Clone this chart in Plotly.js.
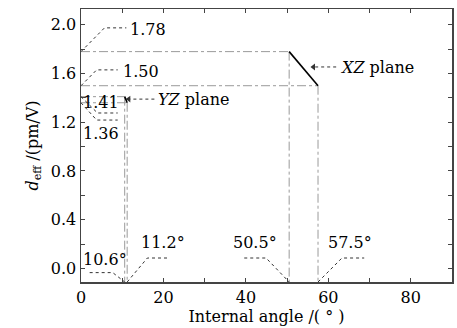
<!DOCTYPE html>
<html>
<head>
<meta charset="utf-8">
<script src="https://cdn.plot.ly/plotly-3.0.1.min.js"></script>
<style>html,body{margin:0;padding:0;background:#fff;}#chart{width:457px;height:328px;}</style>
</head>
<body>
<div id="chart"></div>
<script>
// ---- data ----
const xzAngle = [50.5, 57.5];
const xzDeff = [1.78, 1.50];
const yzAngle = [10.6, 11.2];
const yzDeff = [1.41, 1.36];
const xTickVals = [0, 20, 40, 60, 80];
const xTickText = ['0', '20', '40', '60', '80'];
const yTickVals = [0, 0.4, 0.8, 1.2, 1.6, 2.0];
const yTickText = ['0.0', '0.4', '0.8', '1.2', '1.6', '2.0'];

// ---- layout constants ----
const xRange = [0, 90];
const yRange = [-0.112, 2.13];
const yBot = yRange[0];
const FONT = 'DejaVu Serif';
const FS = 16;
const refColor = '#9a9a9a';
const leadColor = '#333';

const traces = [];
function line(xs, ys, color, dash, width) {
  traces.push({x: xs, y: ys, mode: 'lines', type: 'scatter', hoverinfo: 'skip',
    line: {color: color, dash: dash, width: width}, showlegend: false});
}

// reference dash-dot lines from the data points
const allAngles = xzAngle.concat(yzAngle);
const allDeff = xzDeff.concat(yzDeff);
for (let i = 0; i < allAngles.length; i++) {
  line([0, allAngles[i]], [allDeff[i], allDeff[i]], refColor, 'dashdot', 1);
  line([allAngles[i], allAngles[i]], [allDeff[i], yBot], refColor, 'dashdot', 1);
}

// leader lines (label placement)
const leaders = [
  [[0, 5.7, 11.0], [xzDeff[0], 1.975, 1.975]],
  [[0, 3.8, 8.9], [xzDeff[1], 1.63, 1.63]],
  [[0, 4.0, 8.9], [yzDeff[0], 1.276, 1.276]],
  [[0, 3.8, 8.9], [yzDeff[1], 1.218, 1.218]],
  [[2.1, 7.7, yzAngle[0]], [-0.035, -0.035, yBot]],
  [[yzAngle[1], 16.1, 21.4], [yBot, 0.085, 0.085]],
  [[39.6, 44.9, xzAngle[0]], [0.085, 0.085, yBot]],
  [[xzAngle[1], 63.3, 68.7], [yBot, 0.085, 0.085]],
  [[17.8, 11.8], [1.39, 1.39]],
  [[61.9, 56.6], [1.654, 1.654]]
];
leaders.forEach(l => line(l[0], l[1], leadColor, 'dot', 1));

// arrow heads of the plane pointers
traces.push({x: [11.6, 56.4], y: [1.39, 1.654], mode: 'markers', type: 'scatter', hoverinfo: 'skip',
  marker: {symbol: 'triangle-left', size: 6, color: leadColor}, showlegend: false});

// main curves
line(xzAngle, xzDeff, '#000', 'solid', 1.6);
line(yzAngle, yzDeff, '#000', 'solid', 1.6);

function lab(x, y, text, anchor) {
  return {x: x, y: y, xref: 'x', yref: 'y', text: text, showarrow: false,
    xanchor: anchor || 'left', yanchor: 'middle', font: {family: FONT, size: FS, color: '#000'}};
}
const annotations = [
  lab(11.5, 1.965, xzDeff[0].toFixed(2)),
  lab(9.6, 1.62, xzDeff[1].toFixed(2)),
  lab(0.1, 1.366, yzDeff[0].toFixed(2)),
  lab(0.0, 1.111, yzDeff[1].toFixed(2)),
  lab(0.0, 0.074, yzAngle[0].toFixed(1) + '°'),
  lab(14.0, 0.214, yzAngle[1].toFixed(1) + '°'),
  lab(36.5, 0.214, xzAngle[0].toFixed(1) + '°'),
  lab(59.5, 0.214, xzAngle[1].toFixed(1) + '°'),
  lab(18.3, 1.385, '<i>YZ</i> plane'),
  lab(62.4, 1.65, '<i>XZ</i> plane')
];

const axisCommon = {
  showgrid: false, zeroline: false, showline: true, linecolor: '#444', linewidth: 1.5,
  mirror: 'ticks', ticks: 'inside', ticklen: 4, tickwidth: 1, tickcolor: '#444',
  tickmode: 'array', tickfont: {family: FONT, size: FS, color: '#000'}
};

const layout = {
  width: 457, height: 328,
  margin: {l: 81, r: 5, t: 9, b: 46},
  paper_bgcolor: '#fff', plot_bgcolor: '#fff',
  font: {family: FONT, color: '#000'},
  xaxis: Object.assign({}, axisCommon, {
    range: xRange, tickvals: xTickVals, ticktext: xTickText, ticklabelstandoff: 0,
    minor: {dtick: 10, tick0: 0, ticks: 'inside', ticklen: 4, tickwidth: 1, tickcolor: '#444'},
    title: {text: 'Internal angle /( ° )', font: {family: FONT, size: FS}, standoff: 0}
  }),
  yaxis: Object.assign({}, axisCommon, {
    range: yRange, tickvals: yTickVals, ticktext: yTickText,
    minor: {dtick: 0.2, tick0: 0, ticks: 'inside', ticklen: 4, tickwidth: 1, tickcolor: '#444'},
    title: {text: '<i>d</i><sub>eff</sub> /(pm/V)', font: {family: FONT, size: FS}, standoff: 8}
  }),
  annotations: annotations,
  showlegend: false
};

Plotly.newPlot('chart', traces, layout, {displayModeBar: false, staticPlot: true});
</script>
</body>
</html>
